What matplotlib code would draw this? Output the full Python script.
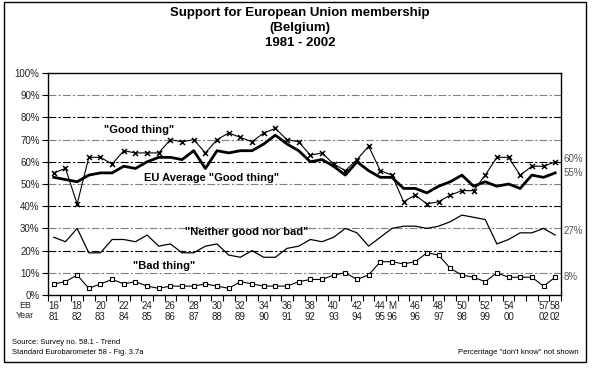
import matplotlib
matplotlib.use("Agg")
import matplotlib.pyplot as plt
from matplotlib.patches import Rectangle

plt.rcParams['font.family'] = ['Liberation Sans', 'DejaVu Sans']

# survey slots (one per Eurobarometer wave, 16 ... 58 incl. "M")
good_thing = [55, 57, 41, 62, 62, 59, 65, 64, 64, 64, 70, 69, 70, 64, 70, 73, 71, 69, 73, 75, 70, 69,
              63, 64, 59, 56, 61, 67, 56, 54, 42, 45, 41, 42, 45, 47, 47, 54, 62, 62, 54, 58, 58, 60]
eu_average = [53, 52, 51, 54, 55, 55, 58, 57, 60, 62, 62, 61, 65, 57, 65, 64, 65, 65, 68, 72, 68, 65,
              60, 61, 58, 54, 60, 56, 53, 53, 48, 48, 46, 49, 51, 54, 49, 51, 49, 50, 48, 54, 53, 55]
neither = [26, 24, 30, 19, 19, 25, 25, 24, 27, 22, 23, 19, 19, 22, 23, 18, 17, 20, 17, 17, 21, 22,
           25, 24, 26, 30, 28, 22, 26, 30, 31, 31, 30, 31, 33, 36, 35, 34, 23, 25, 28, 28, 30, 27]
bad_thing = [5, 6, 9, 3, 5, 7, 5, 6, 4, 3, 4, 4, 4, 5, 4, 3, 6, 5, 4, 4, 4, 6,
             7, 7, 9, 10, 7, 9, 15, 15, 14, 15, 19, 18, 12, 9, 8, 6, 10, 8, 8, 8, 4, 8]

label_pos = [0, 2, 4, 6, 8, 10, 12, 14, 16, 18, 20, 22, 24, 26, 28, 29, 31, 33, 35, 37, 39, 42, 43]
eb_labels = ['16', '18', '20', '22', '24', '26', '28', '30', '32', '34', '36', '38', '40', '42',
             '44', 'M', '46', '48', '50', '52', '54', '57', '58']
year_labels = ['81', '82', '83', '84', '85', '86', '87', '88', '89', '90', '91', '92', '93', '94',
               '95', '96', '96', '97', '98', '99', '00', '02', '02']


def main():
    W, H = 601, 371
    fig = plt.figure(figsize=(W / 100, H / 100), dpi=100)
    fig.patch.set_facecolor('white')

    # outer frame
    fig.add_artist(Rectangle((4 / W, 1 - 362 / H), (586 - 4) / W, (362 - 2) / H,
                             transform=fig.transFigure, fill=False, lw=1.0, ec='black'))

    x0, x1, ytop, ybot = 48, 561, 73, 295
    ax = fig.add_axes([x0 / W, 1 - ybot / H, (x1 - x0) / W, (ybot - ytop) / H])
    n = len(good_thing)
    xs = list(range(n))

    for lev in range(10, 100, 10):
        col = '#808080' if (lev // 10) % 2 == 1 else 'black'
        ax.axhline(lev, color=col, lw=0.8, ls=(0, (7, 2, 2, 2)), zorder=1)

    ax.plot(xs, neither, color='black', lw=0.9, zorder=3)
    ax.plot(xs, bad_thing, color='black', lw=0.8, marker='s', ms=3.2,
            mfc='white', mec='black', mew=0.8, zorder=3)
    ax.plot(xs, eu_average, color='black', lw=2.0, zorder=4)
    ax.plot(xs, good_thing, color='black', lw=0.8, marker='x', ms=3.6, mew=1.1, zorder=5)

    ax.set_xlim(-0.5, n - 0.5)
    ax.set_ylim(0, 100)
    ax.set_yticks(range(0, 101, 10))
    ax.set_yticklabels([f'{v}%' for v in range(0, 101, 10)], fontsize=7, color='#222222')
    ax.tick_params(axis='y', length=4, width=0.8, pad=2)
    ax.set_xticks([i - 0.5 for i in range(n + 1)])
    ax.set_xticklabels([])
    ax.tick_params(axis='x', length=4, width=0.8)
    for s in ax.spines.values():
        s.set_color('black')
        s.set_linewidth(1.0)

    for p, eb, yr in zip(label_pos, eb_labels, year_labels):
        ax.text(p, -5, eb, ha='center', va='center', fontsize=7, color='#222222',
                transform=ax.transData, clip_on=False)
        ax.text(p, -10, yr, ha='center', va='center', fontsize=7, color='#222222',
                transform=ax.transData, clip_on=False)
    fig.text(25 / W, 1 - 306 / H, 'EB', ha='center', va='center', fontsize=6.5, color='#222222')
    fig.text(25 / W, 1 - 316 / H, 'Year', ha='center', va='center', fontsize=6.5, color='#222222')

    # series labels
    ax.text(7.3, 74.5, '"Good thing"', ha='center', va='center', fontsize=8, fontweight='bold')
    ax.text(13.5, 52.5, 'EU Average "Good thing"', ha='center', va='center', fontsize=8,
            fontweight='bold')
    ax.text(16.5, 28.5, '"Neither good nor bad"', ha='center', va='center', fontsize=8,
            fontweight='bold')
    ax.text(9.5, 13, '"Bad thing"', ha='center', va='center', fontsize=8, fontweight='bold')

    # end values
    for txt, yp in [('60%', 159), ('55%', 173), ('27%', 231), ('8%', 277)]:
        fig.text(564 / W, 1 - yp / H, txt, ha='left', va='center', fontsize=7, color='#555555')

    fig.text(300 / W, 1 - 13 / H, 'Support for European Union membership', ha='center',
             va='center', fontsize=9.5, fontweight='bold')
    fig.text(300 / W, 1 - 28 / H, '(Belgium)', ha='center', va='center', fontsize=9.5,
             fontweight='bold')
    fig.text(300 / W, 1 - 43 / H, '1981 - 2002', ha='center', va='center', fontsize=9.5,
             fontweight='bold')

    fig.text(12 / W, 1 - 342 / H, 'Source: Survey no. 58.1 - Trend', ha='left', va='center',
             fontsize=5.5)
    fig.text(12 / W, 1 - 352 / H, 'Standard Eurobarometer 58 - Fig. 3.7a', ha='left',
             va='center', fontsize=5.5)
    fig.text(579 / W, 1 - 352 / H, 'Percentage "don\'t know" not shown', ha='right',
             va='center', fontsize=5.5)

    fig.savefig('out.png', dpi=100)


if __name__ == '__main__':
    main()
